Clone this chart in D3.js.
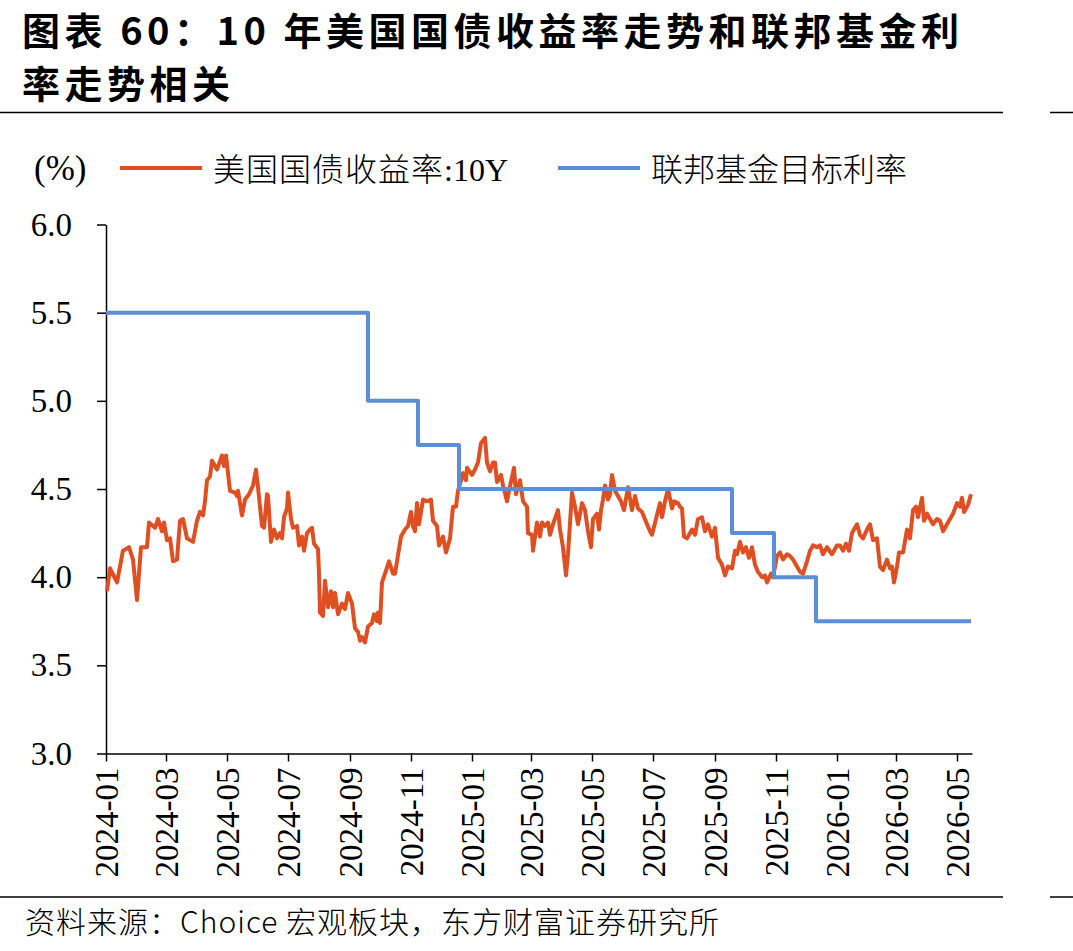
<!DOCTYPE html>
<html>
<head>
    <meta charset="utf-8">
    <script src="https://d3js.org/d3.v7.min.js"></script>
    <style>
        body { margin: 0; background: white; }
    </style>
</head>
<body>
    <svg id="svg" width="1073" height="951"></svg>
    <script>
        // 10Y treasury yield
        var yieldDates = ["2024-01-02","2024-01-05","2024-01-12","2024-01-18","2024-01-24","2024-01-28","2024-02-01","2024-02-05","2024-02-11","2024-02-13","2024-02-19","2024-02-22","2024-02-26","2024-02-28","2024-03-02","2024-03-05","2024-03-08","2024-03-12","2024-03-15","2024-03-18","2024-03-22","2024-03-28","2024-04-01","2024-04-04","2024-04-07","2024-04-09","2024-04-11","2024-04-14","2024-04-16","2024-04-21","2024-04-26","2024-04-28","2024-04-30","2024-05-04","2024-05-09","2024-05-11","2024-05-12","2024-05-16","2024-05-19","2024-05-23","2024-05-27","2024-05-30","2024-06-01","2024-06-05","2024-06-07","2024-06-10","2024-06-11","2024-06-14","2024-06-17","2024-06-20","2024-06-23","2024-06-25","2024-06-27","2024-06-30","2024-07-01","2024-07-04","2024-07-06","2024-07-10","2024-07-12","2024-07-15","2024-07-17","2024-07-20","2024-07-23","2024-07-25","2024-07-27","2024-07-31","2024-08-01","2024-08-02","2024-08-05","2024-08-07","2024-08-10","2024-08-13","2024-08-15","2024-08-17","2024-08-20","2024-08-24","2024-08-27","2024-08-30","2024-09-03","2024-09-06","2024-09-09","2024-09-11","2024-09-13","2024-09-16","2024-09-19","2024-09-23","2024-09-25","2024-09-28","2024-09-29","2024-10-01","2024-10-03","2024-10-06","2024-10-10","2024-10-14","2024-10-16","2024-10-18","2024-10-22","2024-10-26","2024-10-29","2024-11-01","2024-11-03","2024-11-05","2024-11-07","2024-11-09","2024-11-13","2024-11-17","2024-11-21","2024-11-23","2024-11-27","2024-11-29","2024-12-03","2024-12-06","2024-12-10","2024-12-13","2024-12-16","2024-12-18","2024-12-21","2024-12-23","2024-12-26","2024-12-27","2025-01-01","2025-01-04","2025-01-07","2025-01-10","2025-01-14","2025-01-16","2025-01-19","2025-01-22","2025-01-24","2025-01-26","2025-01-30","2025-02-01","2025-02-05","2025-02-07","2025-02-12","2025-02-14","2025-02-18","2025-02-21","2025-02-25","2025-02-26","2025-03-02","2025-03-03","2025-03-07","2025-03-10","2025-03-12","2025-03-15","2025-03-18","2025-03-20","2025-03-23","2025-03-28","2025-03-30","2025-04-02","2025-04-05","2025-04-07","2025-04-11","2025-04-14","2025-04-17","2025-04-21","2025-04-24","2025-04-27","2025-04-30","2025-05-02","2025-05-06","2025-05-08","2025-05-10","2025-05-12","2025-05-14","2025-05-17","2025-05-19","2025-05-21","2025-05-24","2025-05-27","2025-05-30","2025-06-02","2025-06-06","2025-06-10","2025-06-13","2025-06-16","2025-06-20","2025-06-25","2025-06-28","2025-06-30","2025-07-04","2025-07-08","2025-07-10","2025-07-13","2025-07-16","2025-07-20","2025-07-22","2025-07-26","2025-07-28","2025-07-30","2025-08-01","2025-08-04","2025-08-09","2025-08-12","2025-08-15","2025-08-19","2025-08-22","2025-08-25","2025-08-29","2025-09-01","2025-09-04","2025-09-08","2025-09-11","2025-09-14","2025-09-18","2025-09-21","2025-09-23","2025-09-26","2025-09-29","2025-10-02","2025-10-05","2025-10-08","2025-10-11","2025-10-14","2025-10-18","2025-10-21","2025-10-23","2025-10-27","2025-10-29","2025-11-02","2025-11-05","2025-11-08","2025-11-12","2025-11-15","2025-11-18","2025-11-22","2025-11-25","2025-11-28","2025-12-02","2025-12-05","2025-12-08","2025-12-12","2025-12-15","2025-12-18","2025-12-22","2025-12-27","2026-01-01","2026-01-04","2026-01-07","2026-01-10","2026-01-13","2026-01-16","2026-01-21","2026-01-24","2026-01-27","2026-01-31","2026-02-03","2026-02-06","2026-02-10","2026-02-13","2026-02-16","2026-02-20","2026-02-23","2026-02-25","2026-02-27","2026-03-02","2026-03-04","2026-03-08","2026-03-12","2026-03-15","2026-03-18","2026-03-21","2026-03-23","2026-03-27","2026-03-29","2026-04-01","2026-04-04","2026-04-07","2026-04-11","2026-04-14","2026-04-17","2026-04-21","2026-04-24","2026-04-27","2026-05-01","2026-05-04","2026-05-06","2026-05-08","2026-05-12","2026-05-15"];
        var yieldValues = [3.92,4.05,3.97,4.15,4.17,4.10,3.87,4.17,4.17,4.31,4.28,4.33,4.26,4.31,4.21,4.22,4.09,4.10,4.32,4.33,4.22,4.20,4.32,4.37,4.35,4.43,4.55,4.57,4.66,4.61,4.69,4.63,4.69,4.49,4.48,4.46,4.49,4.35,4.44,4.47,4.52,4.61,4.51,4.29,4.28,4.47,4.46,4.20,4.27,4.22,4.25,4.22,4.34,4.39,4.48,4.33,4.28,4.29,4.18,4.23,4.15,4.25,4.27,4.28,4.19,4.16,4.02,3.80,3.78,3.98,3.83,3.92,3.83,3.91,3.79,3.85,3.82,3.91,3.85,3.71,3.69,3.64,3.66,3.63,3.72,3.74,3.79,3.75,3.80,3.74,3.97,4.02,4.09,4.02,4.02,4.09,4.23,4.27,4.29,4.37,4.29,4.26,4.42,4.30,4.44,4.43,4.44,4.32,4.29,4.18,4.23,4.14,4.22,4.40,4.40,4.49,4.55,4.59,4.55,4.62,4.58,4.61,4.65,4.76,4.79,4.65,4.60,4.65,4.65,4.54,4.58,4.52,4.43,4.49,4.62,4.47,4.55,4.43,4.40,4.25,4.24,4.15,4.31,4.23,4.31,4.29,4.31,4.24,4.30,4.38,4.27,4.17,4.01,4.13,4.48,4.40,4.30,4.42,4.38,4.26,4.17,4.33,4.36,4.27,4.38,4.44,4.52,4.44,4.47,4.58,4.49,4.46,4.43,4.38,4.51,4.38,4.46,4.39,4.37,4.30,4.26,4.24,4.33,4.42,4.34,4.43,4.50,4.39,4.43,4.42,4.40,4.39,4.23,4.22,4.27,4.24,4.33,4.34,4.26,4.30,4.23,4.28,4.11,4.07,4.01,4.06,4.05,4.15,4.13,4.20,4.14,4.17,4.11,4.17,4.07,4.03,4.00,4.01,3.97,4.02,4.00,4.12,4.14,4.10,4.13,4.12,4.10,4.06,4.03,4.02,4.09,4.15,4.18,4.17,4.18,4.13,4.17,4.13,4.18,4.18,4.15,4.19,4.15,4.25,4.30,4.24,4.22,4.27,4.30,4.21,4.22,4.06,4.04,4.10,4.05,4.06,3.97,4.06,4.14,4.14,4.27,4.22,4.38,4.40,4.34,4.45,4.32,4.36,4.33,4.30,4.33,4.32,4.26,4.30,4.33,4.36,4.42,4.40,4.45,4.37,4.41,4.47];

        // fed funds target (upper bound), step changes
        var fedDates = ["2024-01-01","2024-09-19","2024-11-08","2024-12-19","2025-09-18","2025-10-30","2025-12-11","2026-05-15"];
        var fedValues = [5.5, 5.0, 4.75, 4.5, 4.25, 4.0, 3.75, 3.75];

        var yTicks = [3.0, 3.5, 4.0, 4.5, 5.0, 5.5, 6.0];
        var seriesNames = ["美国国债收益率", "联邦基金目标利率"];

        var parse = d3.utcParse("%Y-%m-%d");
        var svg = d3.select("#svg");
        svg.append("rect").attr("width", 1073).attr("height", 951).attr("fill", "white");

        var cjk = "'Noto Sans CJK SC', sans-serif",
            serif = "'Liberation Serif', 'Times New Roman', serif";

        // title
        svg.append("text").attr("x", 22).attr("y", 45).attr("font-family", cjk).attr("font-weight", "bold")
            .attr("font-size", 38).attr("letter-spacing", 4.5).text("图表 60：10 年美国国债收益率走势和联邦基金利");
        svg.append("text").attr("x", 22).attr("y", 98).attr("font-family", cjk).attr("font-weight", "bold")
            .attr("font-size", 38).attr("letter-spacing", 4.5).text("率走势相关");

        // rules
        [112.5, 897].forEach(function (yy) {
            svg.append("line").attr("x1", 0).attr("x2", 1003).attr("y1", yy).attr("y2", yy).attr("stroke", "black").attr("stroke-width", 1.5);
            svg.append("line").attr("x1", 1050).attr("x2", 1073).attr("y1", yy).attr("y2", yy).attr("stroke", "black").attr("stroke-width", 1.5);
        });

        // legend
        svg.append("text").attr("x", 34).attr("y", 180).attr("font-family", serif).attr("font-size", 35).text("(%)");
        svg.append("line").attr("x1", 120).attr("x2", 202).attr("y1", 168).attr("y2", 168).attr("stroke", "#e04f22").attr("stroke-width", 4);
        var t1 = svg.append("text").attr("x", 213).attr("y", 181).attr("font-size", 32);
        t1.append("tspan").attr("font-family", cjk).attr("font-weight", 300).attr("letter-spacing", 1).text(seriesNames[0]);
        t1.append("tspan").attr("font-family", serif).text(":10Y");
        svg.append("line").attr("x1", 558).attr("x2", 640).attr("y1", 168).attr("y2", 168).attr("stroke", "#5a8fd8").attr("stroke-width", 4);
        svg.append("text").attr("x", 651).attr("y", 181).attr("font-size", 32).attr("font-family", cjk).attr("font-weight", 300).text(seriesNames[1]);

        // scales
        var x = d3.scaleUtc().domain([parse("2024-01-01"), parse("2026-05-16")]).range([106, 972]);
        var y = d3.scaleLinear().domain([3, 6]).range([753.5, 224.5]);

        var yAxis = svg.append("g").attr("transform", "translate(106,0)")
            .call(d3.axisLeft(y).tickValues(yTicks).tickFormat(d3.format(".1f")).tickSize(9).tickPadding(25).tickSizeOuter(0));
        yAxis.selectAll("text").attr("font-family", serif).attr("font-size", 33).attr("fill", "black");

        var xAxis = svg.append("g").attr("transform", "translate(0,753.5)")
            .call(d3.axisBottom(x).ticks(d3.utcMonth.every(2)).tickFormat(d3.utcFormat("%Y-%m")).tickSize(8).tickSizeOuter(0));
        xAxis.selectAll("text").attr("font-family", serif).attr("font-size", 33).attr("fill", "black")
            .attr("transform", "rotate(-90)").attr("text-anchor", "end")
            .attr("x", -14).attr("y", 0).attr("dy", "0.35em");
        svg.selectAll(".domain, .tick line").attr("stroke", "black").attr("stroke-width", 1.5);

        // lines
        var yieldData = yieldDates.map(function (d, i) { return [parse(d), yieldValues[i]]; });
        var fedData = fedDates.map(function (d, i) { return [parse(d), fedValues[i]]; });

        var line = d3.line().x(function (d) { return x(d[0]); }).y(function (d) { return y(d[1]); });
        var step = d3.line().curve(d3.curveStepAfter).x(function (d) { return x(d[0]); }).y(function (d) { return y(d[1]); });

        svg.append("path").attr("d", line(yieldData)).attr("fill", "none").attr("stroke", "#e04f22")
            .attr("stroke-width", 4).attr("stroke-linejoin", "round");
        svg.append("path").attr("d", step(fedData)).attr("fill", "none").attr("stroke", "#5a8fd8")
            .attr("stroke-width", 4).attr("stroke-linejoin", "round");

        // source
        svg.append("text").attr("x", 25).attr("y", 933).attr("font-size", 30).attr("letter-spacing", 1).attr("font-family", cjk).attr("font-weight", 300)
            .text("资料来源：Choice 宏观板块，东方财富证券研究所");
    </script>
</body>
</html>
